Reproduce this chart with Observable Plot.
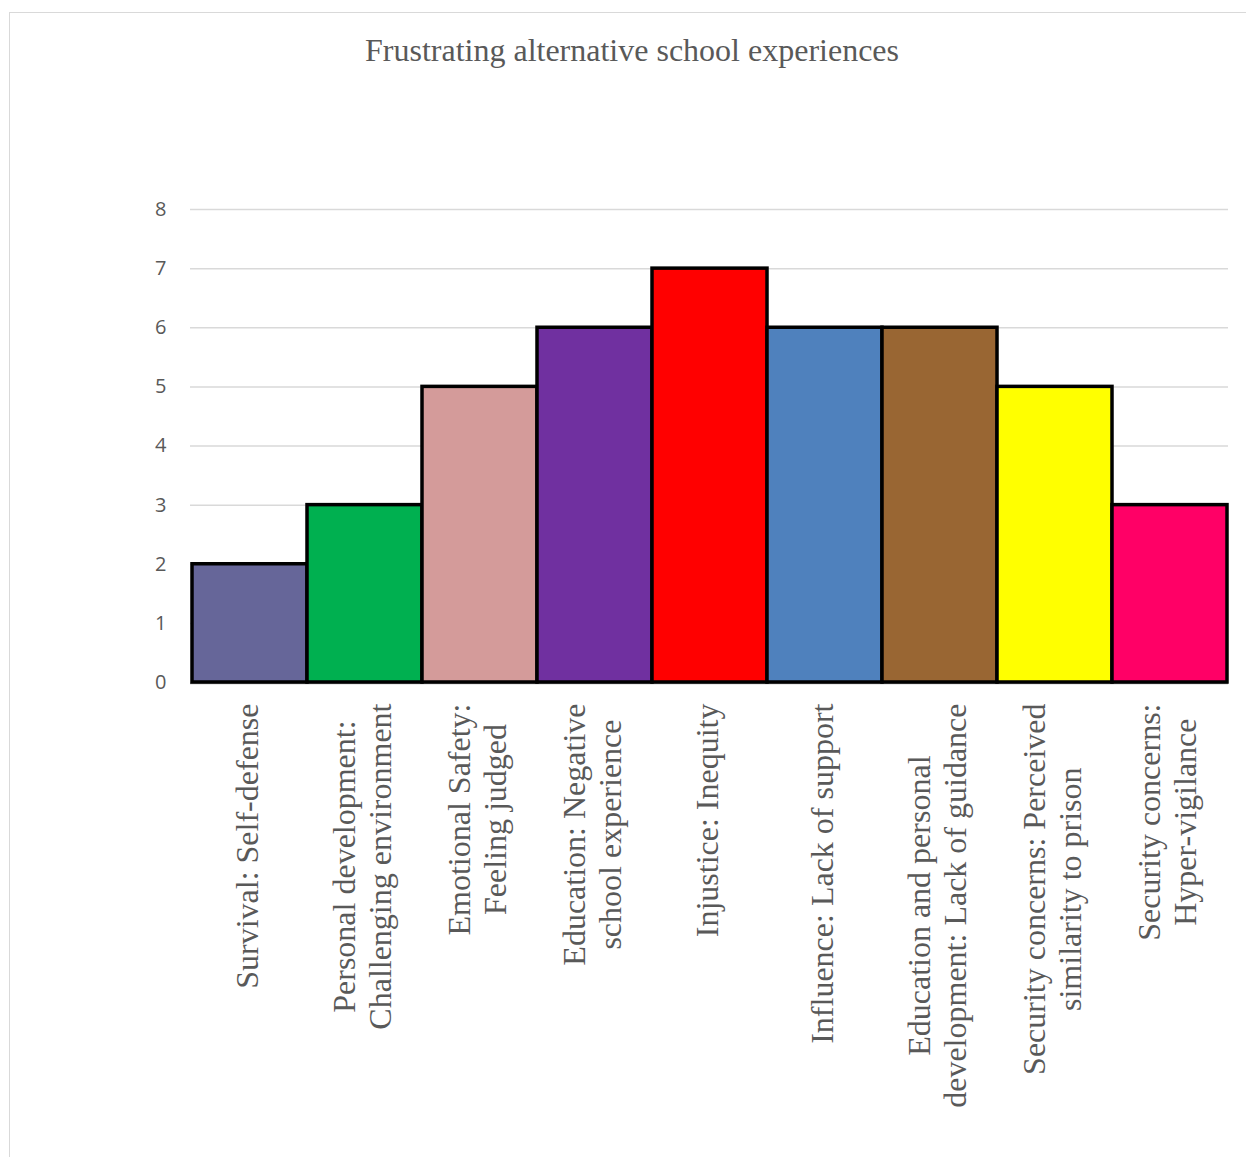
<!DOCTYPE html>
<html><head><meta charset="utf-8">
<script src="https://cdn.jsdelivr.net/npm/d3@7"></script>
<script src="https://cdn.jsdelivr.net/npm/@observablehq/plot@0.6"></script>
<style>
html,body{margin:0;padding:0;background:#fff;overflow:hidden;width:1246px;height:1157px}
#frame{position:absolute;left:9px;top:12px;width:1400px;height:1300px;border:1px solid #d9d9d9;box-sizing:border-box}
#title{position:absolute;left:0;width:1264px;top:32px;text-align:center;font-family:"Liberation Serif",serif;font-size:32px;line-height:36px;color:#595959}
#chart{position:absolute;left:0;top:180px}
</style></head><body>
<div id="frame"></div>
<div id="title">Frustrating alternative school experiences</div>
<div id="chart"></div>
<script>
const categories = [
  "Survival: Self-defense",
  "Personal development:\nChallenging environment",
  "Emotional Safety:\nFeeling judged",
  "Education: Negative\nschool experience",
  "Injustice: Inequity",
  "Influence: Lack of support",
  "Education and personal\ndevelopment: Lack of guidance",
  "Security concerns: Perceived\nsimilarity to prison",
  "Security concerns:\nHyper-vigilance"
];
const values = [2, 3, 5, 6, 7, 6, 6, 5, 3];
const colors = ["#666699", "#00B050", "#D49B9A", "#7030A0", "#FF0000", "#4F81BD", "#996633", "#FFFF00", "#FF0066"];
const yTicks = [0, 1, 2, 3, 4, 5, 6, 7, 8];

const data = categories.map((c, i) => ({category: c, value: values[i], color: colors[i]}));

const chart = Plot.plot({
  width: 1246,
  height: 950,
  marginTop: 29,
  marginBottom: 448,
  marginLeft: 190,
  marginRight: 18,
  style: {background: "transparent", color: "#595959"},
  x: {domain: categories, padding: 0, axis: null, label: null},
  y: {domain: [0, 8], ticks: yTicks, axis: null, label: null},
  marks: [
    Plot.gridY(yTicks, {stroke: "#d9d9d9", strokeOpacity: 1, strokeWidth: 1.5}),
    Plot.ruleY([0], {stroke: "#a6a6a6", strokeWidth: 1.5, dy: 1}),
    Plot.barY(data, {x: "category", y: "value", fill: "color", stroke: "#000", strokeWidth: 3.5}),
    Plot.axisY(yTicks, {tickSize: 0, tickPadding: 24, tickFormat: d => String(d), label: null, fontSize: 20, fontFamily: "Open Sans", fill: "#595959"}),
    Plot.axisX({tickSize: 0, tickPadding: 21, tickRotate: -90, dx: -4, label: null, fontSize: 32, lineHeight: 1.125, fontFamily: "Liberation Serif", fill: "#595959"})
  ]
});
document.getElementById("chart").appendChild(chart);

// centre multi-line labels on each other, as the original does
chart.querySelectorAll('g[aria-label="x-axis tick label"] text').forEach(t => {
  const spans = t.querySelectorAll("tspan");
  if (spans.length < 2) return;
  let w = 0;
  spans.forEach(s => { w = Math.max(w, s.getComputedTextLength()); });
  t.setAttribute("text-anchor", "middle");
  spans.forEach(s => s.setAttribute("x", -w / 2));
});
</script>
</body></html>
